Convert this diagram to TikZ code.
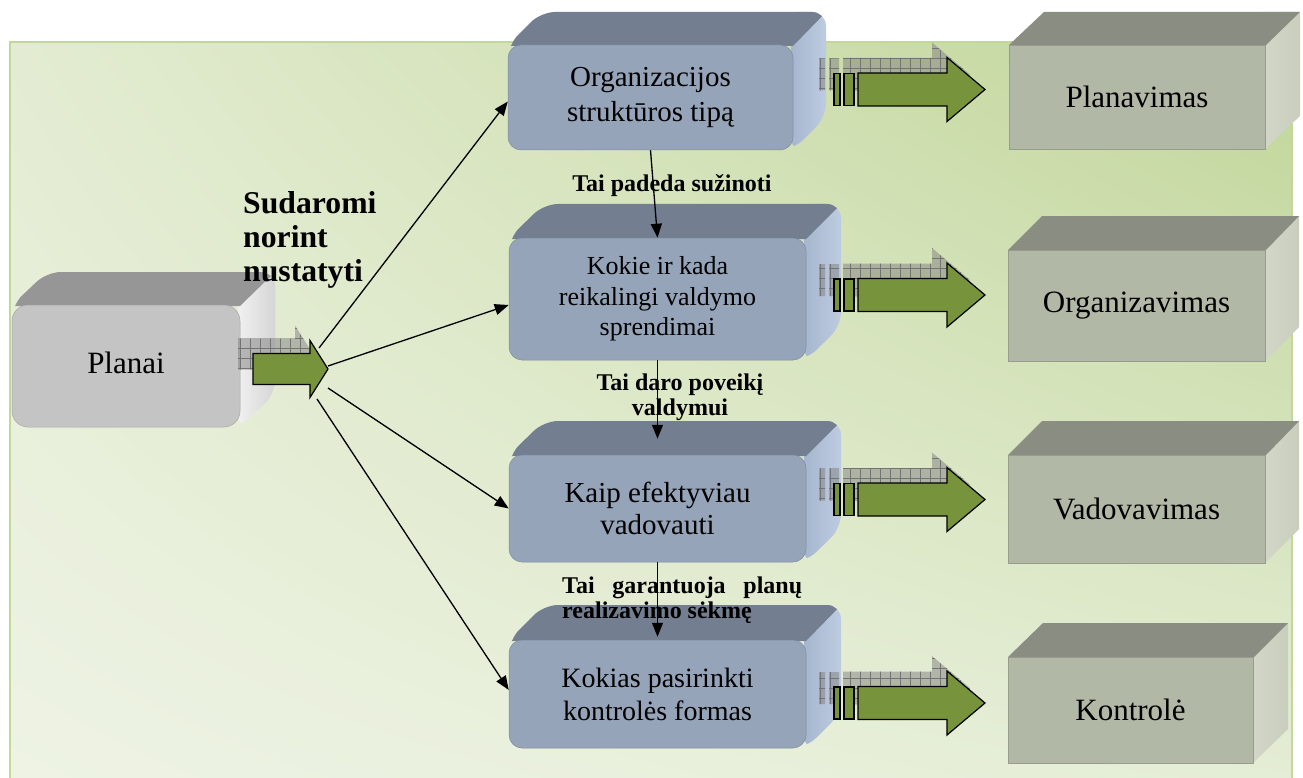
\documentclass[tikz,border=0pt]{standalone}
\usepackage{fontspec}
\setmainfont{Liberation Serif}
\usetikzlibrary{arrows.meta,patterns.meta,shadings}
\definecolor{bgUR}{HTML}{C0D597}
\definecolor{bgUL}{HTML}{E3ECD2}
\definecolor{bgLL}{HTML}{EEF3E4}
\definecolor{bgLR}{HTML}{E4EDD5}
\definecolor{bgEdge}{HTML}{C3D69B}
\definecolor{blueF}{HTML}{95A4B9}
\definecolor{blueT}{HTML}{737F90}
\definecolor{blueSA}{HTML}{A6B6CE}
\definecolor{blueSB}{HTML}{BFCDE2}
\definecolor{grayF}{HTML}{B2B8A6}
\definecolor{grayT}{HTML}{8A8D82}
\definecolor{graySA}{HTML}{D3D7C9}
\definecolor{graySB}{HTML}{C8CDBC}
\definecolor{planF}{HTML}{C4C4C4}
\definecolor{planT}{HTML}{969696}
\definecolor{planSA}{HTML}{F0F0F0}
\definecolor{planSB}{HTML}{D4D4D4}
\definecolor{arrGreen}{HTML}{77933C}

% back faces of a 3D box: #1 x1, #2 y1, #3 x2, #4 y2 (front), #5 dx, #6 dy, #7 top colour, #8/#9 side colours
\newcommand\cubeback[9]{%
  \begin{scope}
    \clip (#1,#2) -- (#1+#5,#2-#6) -- (#3+#5,#2-#6) -- (#3+#5,#4-#6) -- (#3,#4) -- (#1,#4) -- cycle;
    \shade[left color=#8,right color=#9] (#3-2,#2-#6-2) rectangle (#3+#5+2,#4+2);
    \fill[#7,sharp corners] (#1-2,#2+1) -- (#1+#5-2,#2-#6-2) -- (#3+#5+2,#2-#6-2) -- (#3,#2+1) -- cycle;
  \end{scope}}

% striped green arrow with its checkered shadow, centred on y = #1
\newcommand\stripearrow[1]{%
  \begin{scope}[shift={(0,#1)}]
    \begin{scope}[shift={(-15,-15)}]
      \path[gshadow] (834,-16) rectangle (840,16) (844,-16) rectangle (854,16)
        (858,-16.5) -- (947,-16.5) -- (947,-32) -- (985,0) -- (947,32) -- (947,16.5) -- (858,16.5) -- cycle;
    \end{scope}
    \path[garrow] (834,-16) rectangle (840,16);
    \path[garrow] (844,-16) rectangle (854,16);
    \path[garrow] (858,-16.5) -- (947,-16.5) -- (947,-32) -- (985,0) -- (947,32) -- (947,16.5) -- (858,16.5) -- cycle;
  \end{scope}}

\begin{document}
\begin{tikzpicture}[x=1pt,y=-1pt,
  bluefront/.style={rounded corners=13pt, fill=blueF, draw=blueF!85!black, line width=0.5pt, inner sep=0pt, align=center},
  grayfront/.style={fill=grayF, draw=grayF!85!black, line width=0.8pt, inner sep=0pt, align=center, font=\fontsize{31}{36}\selectfont},
  conn/.style={line width=1.3pt, -{Triangle[length=14pt,width=11pt]}},
  lbl/.style={font=\bfseries\fontsize{24}{25}\selectfont, inner sep=0pt},
  garrow/.style={fill=arrGreen, draw=black, line width=1.2pt},
  gshadow/.style={fill=black!50, fill opacity=0.5, draw=none,
    postaction={pattern color=black!55, pattern={Lines[distance=10pt,angle=0,line width=0.6pt]}},
    postaction={pattern color=black!55, pattern={Lines[distance=10pt,angle=90,line width=0.6pt]}}}
]
\useasboundingbox (0,0) rectangle (1303,778);
\fill[white] (0,0) rectangle (1303,778);
\shade[upper left=bgUL, upper right=bgUR, lower left=bgLL, lower right=bgLR] (10,42) rectangle (1292,778);
\draw[bgEdge, line width=2pt] (10,778) -- (10,42) -- (1292,42) -- (1292,778);

% Planai
\begin{scope}[rounded corners=14pt]\cubeback{12}{305}{240}{427}{35}{33}{planT}{planSA}{planSB}\end{scope}
\node[fill=planF, draw=planF!85!black, line width=0.5pt, rounded corners=16pt, minimum width=228pt, minimum height=122pt, inner sep=0pt, font=\fontsize{31}{36}\selectfont] (planai) at (126,366) {\raisebox{7pt}{Planai}};

% blue boxes
\begin{scope}[rounded corners=14pt]
\cubeback{508}{45}{793}{150}{33}{33}{blueT}{blueSA}{blueSB}
\cubeback{509}{238}{806}{360}{35}{34}{blueT}{blueSA}{blueSB}
\cubeback{509}{455}{806}{562}{35}{34}{blueT}{blueSA}{blueSB}
\cubeback{509}{640}{806}{748}{35}{35}{blueT}{blueSA}{blueSB}
\end{scope}
\node[bluefront, minimum width=285pt, minimum height=105pt, font=\fontsize{29}{35}\selectfont] (b1) at (650.5,97.5) {Organizacijos\\struktūros tipą};
\node[bluefront, minimum width=297pt, minimum height=122pt, font=\fontsize{26}{30.5}\selectfont] (b2) at (657.5,299) {Kokie ir kada\\reikalingi valdymo\\sprendimai};
\node[bluefront, minimum width=297pt, minimum height=107pt, font=\fontsize{29}{32}\selectfont] (b3) at (657.5,508.5) {Kaip efektyviau\\vadovauti};
\node[bluefront, minimum width=297pt, minimum height=108pt, font=\fontsize{28}{33}\selectfont] (b4) at (657.5,694) {Kokias pasirinkti\\kontrolės formas};

% grey boxes
\cubeback{1009}{45}{1265}{149}{35}{33}{grayT}{graySA}{graySB}
\cubeback{1008}{250}{1265}{361}{34}{34}{grayT}{graySA}{graySB}
\cubeback{1008}{455}{1265}{563}{34}{34}{grayT}{graySA}{graySB}
\cubeback{1008}{657}{1253}{763}{35}{34}{grayT}{graySA}{graySB}
\node[grayfront, minimum width=256pt, minimum height=104pt] (r1) at (1137,97) {\raisebox{-4pt}{Planavimas}};
\node[grayfront, minimum width=257pt, minimum height=111pt] (r2) at (1136.5,305.5) {Organizavimas};
\node[grayfront, minimum width=257pt, minimum height=108pt] (r3) at (1136.5,509) {Vadovavimas};
\node[grayfront, minimum width=245pt, minimum height=106pt] (r4) at (1130.5,710) {Kontrolė};

% green arrows
\begin{scope}[shift={(-15,-15)}]
  \path[gshadow] (253,353.5) -- (310,353.5) -- (310,340.5) -- (328,369) -- (310,397.5) -- (310,384.5) -- (253,384.5) -- cycle;
\end{scope}
\path[garrow] (253,353.5) -- (310,353.5) -- (310,340.5) -- (328,369) -- (310,397.5) -- (310,384.5) -- (253,384.5) -- cycle;
\stripearrow{89.5}
\stripearrow{295}
\stripearrow{499.5}
\stripearrow{703}

% labels
\node[font=\bfseries\fontsize{31.7}{34}\selectfont, anchor=north west, align=left, inner sep=0pt] (sud) at (243,191) {Sudaromi\\norint\\nustatyti};
\node[lbl, anchor=base] (l1) at (672,192) {Tai padeda sužinoti};
\node[lbl, anchor=north, align=center] (l2) at (680,373.5) {Tai daro poveikį\\valdymui};
\node[lbl, anchor=north west, align=left] (l3) at (562,577) {\makebox[240pt][s]{Tai garantuoja planų}\\realizavimo sėkmę};

% connectors
\coordinate (s1) at (319,348);
\coordinate (s2) at (328,366);
\coordinate (s3) at (328,388);
\coordinate (s4) at (317,399);
\draw[conn] (s1) -- ([yshift=-4pt]b1.west);
\draw[conn] (s2) -- ([yshift=-6pt]b2.west);
\draw[conn] (s3) -- (b3.west);
\draw[conn] (s4) -- ([yshift=4pt]b4.west);
\draw[conn] (b1.south) -- (b2.north);
\draw[conn] (b2.south) -- ([yshift=16pt]b3.north);
\draw[conn] (b3.south) -- ([yshift=3pt]b4.north);
\end{tikzpicture}
\end{document}
